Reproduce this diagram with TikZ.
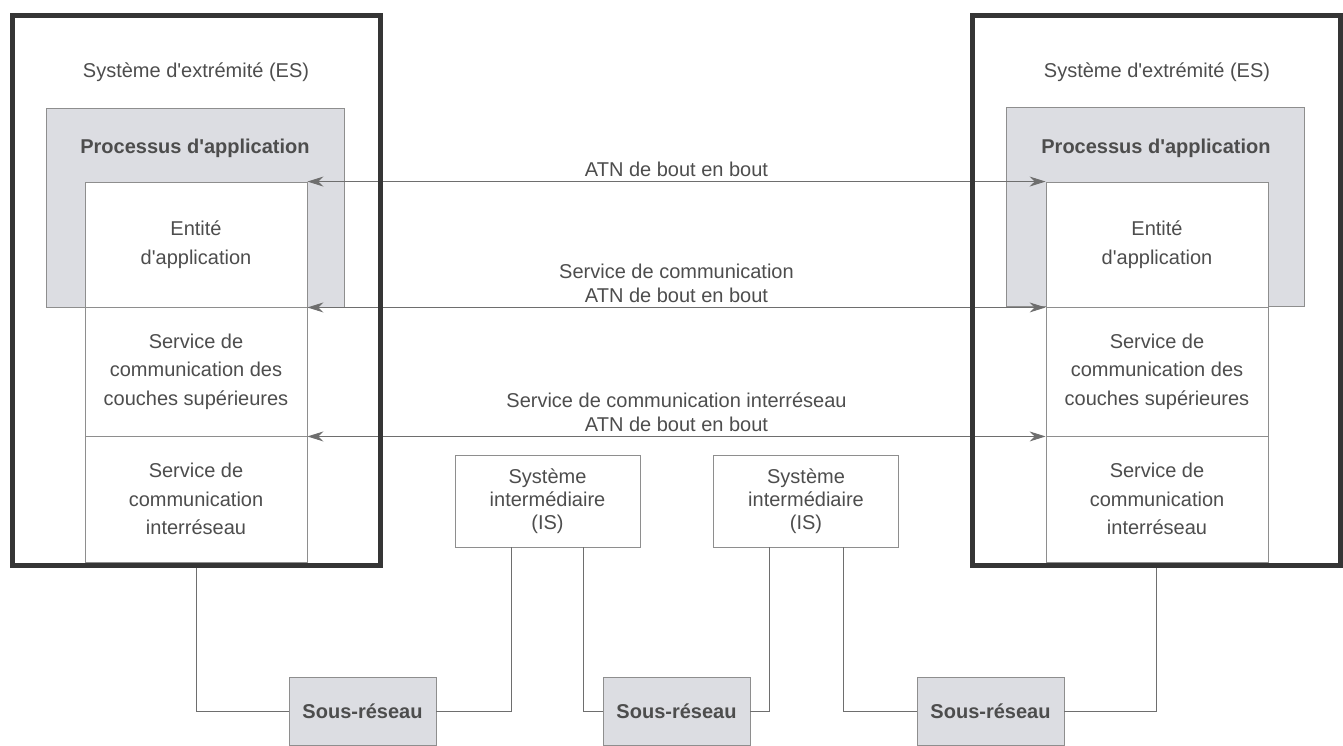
\documentclass[tikz,border=0pt]{standalone}
\usepackage{fontspec}
\setmainfont{Liberation Sans}[Ligatures=TeXOff]
\usetikzlibrary{arrows.meta}
\definecolor{esgray}{HTML}{353535}
\definecolor{boxgray}{HTML}{8E8E8E}
\definecolor{linegray}{HTML}{6E6E6E}
\definecolor{fillgray}{HTML}{DCDDE2}
\definecolor{txtgray}{HTML}{4D4D4D}

\begin{document}
\begin{tikzpicture}[x=1pt,y=-1pt,auto,line width=0.9pt,
    >={Stealth[length=16pt,width=10pt]}]
            \useasboundingbox (0,0) rectangle (1343,745);
            \begin{scope}[every node/.style={draw=boxgray,fill=fillgray,minimum width=298pt,minimum height=199pt}]
                \node (paL) at (195,207.5) {};
                \node (paR) at (1155.5,206.5) {};
            \end{scope}
            \begin{scope}[every node/.style={text=txtgray,align=center,font=\fontsize{20}{28.5}\selectfont}]
                \node (titleL) at (196,72) {Système d'extrémité (ES)};
                \node (titleR) at (1157,72) {Système d'extrémité (ES)};
                \node (procL) at (195,148) {\bfseries Processus d'application};
                \node (procR) at (1156,148) {\bfseries Processus d'application};
            \end{scope}
            \begin{scope}[every node/.style={draw=boxgray,fill=white,minimum width=222pt,inner sep=0pt,
                    text=txtgray,align=center,font=\fontsize{20}{28.5}\selectfont}]
                \node[minimum height=125pt] (entL) at (196,244.5) {Entité\\d'application};
                \node[minimum height=129pt] (supL) at (196,371.5) {Service de\\communication des\\couches supérieures};
                \node[minimum height=126pt] (netL) at (196,499) {Service de\\communication\\interréseau};
                \node[minimum height=125pt] (entR) at (1157,244.5) {Entité\\d'application};
                \node[minimum height=129pt] (supR) at (1157,371.5) {Service de\\communication des\\couches supérieures};
                \node[minimum height=126pt] (netR) at (1157,499) {Service de\\communication\\interréseau};
            \end{scope}
            \begin{scope}[every node/.style={text=txtgray,align=center,inner sep=4pt,font=\fontsize{20}{24}\selectfont}]
                \draw (entL.north east) edge [<->, linegray] node{ATN de bout en bout} (entR.north west);
                \draw (entL.south east) edge [<->, linegray] node{Service de communication\\ATN de bout en bout} (entR.south west);
                \draw (supL.south east) edge [<->, linegray] node{Service de communication interréseau\\ATN de bout en bout} (supR.south west);
            \end{scope}
            \begin{scope}[every node/.style={draw=esgray,line width=5pt,minimum width=368pt,minimum height=550pt}]
                \node (esL) at (196,290) {};
                \node (esR) at (1156.5,290) {};
            \end{scope}
            \begin{scope}[every node/.style={draw=boxgray,minimum width=185pt,minimum height=92pt,
                    text=txtgray,align=center,font=\fontsize{20}{23}\selectfont}]
                \node (is1) at (547.5,501) {Système\\intermédiaire\\(IS)};
                \node (is2) at (806,501) {Système\\intermédiaire\\(IS)};
            \end{scope}
            \begin{scope}[every node/.style={draw=boxgray,fill=fillgray,minimum width=147pt,minimum height=68pt,
                    text=txtgray,font=\fontsize{20}{24}\selectfont\bfseries}]
                \node (sr1) at (362.5,711) {Sous-réseau};
                \node (sr2) at (676.5,711) {Sous-réseau};
                \node (sr3) at (990.5,711) {Sous-réseau};
            \end{scope}
            \draw[linegray] (esL.south) |- (sr1.west);
            \draw[linegray] (sr1.east) -| ([xshift=-36pt]is1.south);
            \draw[linegray] ([xshift=36pt]is1.south) |- (sr2.west);
            \draw[linegray] (sr2.east) -| ([xshift=-37pt]is2.south);
            \draw[linegray] ([xshift=37pt]is2.south) |- (sr3.west);
            \draw[linegray] (sr3.east) -| (esR.south);
        \end{tikzpicture}
\end{document}
